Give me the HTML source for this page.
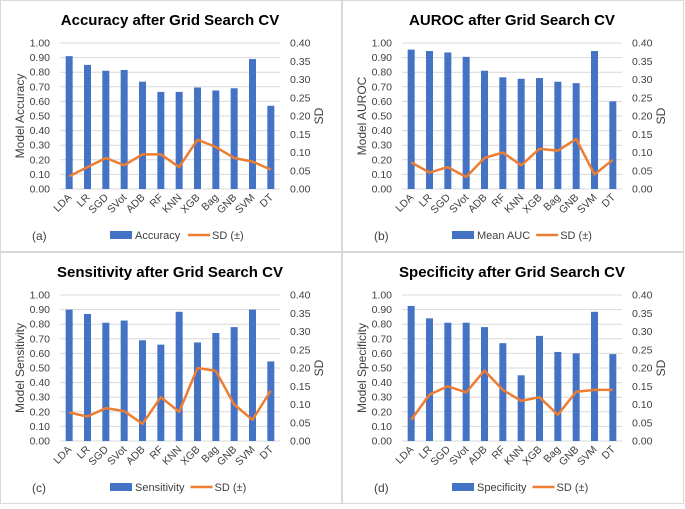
<!DOCTYPE html>
<html><head><meta charset="utf-8"><style>
body{margin:0;background:#fff;font-family:"Liberation Sans",sans-serif}
svg text{font-family:"Liberation Sans",sans-serif;fill:#404040}
</style></head><body>
<svg id="s" width="685" height="504" xmlns="http://www.w3.org/2000/svg"></svg>
<script>
const categories=["LDA","LR","SGD","SVot","ADB","RF","KNN","XGB","Bag","GNB","SVM","DT"];
const accValues=[0.91,0.85,0.81,0.815,0.735,0.665,0.665,0.695,0.675,0.69,0.89,0.57];
const accSD=[0.035,0.06,0.085,0.065,0.095,0.095,0.06,0.135,0.115,0.085,0.075,0.053];
const aucValues=[0.955,0.945,0.935,0.905,0.81,0.765,0.755,0.76,0.735,0.725,0.945,0.60];
const aucSD=[0.073,0.045,0.06,0.033,0.085,0.10,0.065,0.11,0.105,0.137,0.04,0.08];
const sensValues=[0.90,0.87,0.81,0.825,0.69,0.66,0.885,0.675,0.74,0.78,0.90,0.545];
const sensSD=[0.078,0.067,0.09,0.082,0.047,0.12,0.08,0.20,0.192,0.10,0.058,0.138];
const specValues=[0.925,0.84,0.81,0.81,0.78,0.67,0.45,0.72,0.61,0.60,0.885,0.595];
const specSD=[0.058,0.127,0.15,0.133,0.193,0.14,0.11,0.12,0.072,0.135,0.14,0.14];
const leftTicks=["0.00","0.10","0.20","0.30","0.40","0.50","0.60","0.70","0.80","0.90","1.00"];
const rightTicks=["0.00","0.05","0.10","0.15","0.20","0.25","0.30","0.35","0.40"];
const NS="http://www.w3.org/2000/svg";
const svg=document.getElementById('s');
function el(tag,attrs,parent,text){const e=document.createElementNS(NS,tag);for(const k in attrs)e.setAttribute(k,attrs[k]);if(text!==undefined)e.textContent=text;(parent||svg).appendChild(e);return e;}
const panels=[
 {ox:0,oy:0,title:"Accuracy after Grid Search CV",yt:"Model Accuracy",leg:"Accuracy",tag:"(a)",v:accValues,sd:accSD,id:"accuracy"},
 {ox:342,oy:0,title:"AUROC after Grid Search CV",yt:"Model AUROC",leg:"Mean AUC",tag:"(b)",v:aucValues,sd:aucSD,id:"auroc"},
 {ox:0,oy:252,title:"Sensitivity after Grid Search CV",yt:"Model Sensitivity",leg:"Sensitivity",tag:"(c)",v:sensValues,sd:sensSD,id:"sensitivity"},
 {ox:342,oy:252,title:"Specificity after Grid Search CV",yt:"Model Specificity",leg:"Specificity",tag:"(d)",v:specValues,sd:specSD,id:"specificity"}];
panels.forEach(p=>{
 const g=el('g',{transform:`translate(${p.ox},${p.oy})`});
 
 
 el('rect',{x:0.5,y:0.5,width:341,height:251,fill:'#fff',stroke:'#d9d9d9'},g);
 const L=60,R=280,T=43,B=189;
 const y=v=>B-(B-T)*v/1.0, y2=v=>B-(B-T)*v/0.4;
 const band=(R-L)/categories.length, xc=i=>L+band*(i+0.5);
 const t=el('text',{x:170,y:25,'text-anchor':'middle','font-size':15,'font-weight':'bold',style:'fill:#000'},g,p.title);
 
 
 leftTicks.forEach((s,i)=>{const v=i/10;
  el('line',{x1:L,x2:R,y1:y(v),y2:y(v),stroke:'#d9d9d9','stroke-width':1},g);
  el('text',{x:50,y:y(v)+3.5,'text-anchor':'end','font-size':10.5},g,s);});
 rightTicks.forEach((s,i)=>{el('text',{x:290,y:y2(i*0.05)+3.5,'font-size':10.5},g,s);});
 el('text',{transform:`translate(24,${(T+B)/2}) rotate(-90)`,'text-anchor':'middle','font-size':12},g,p.yt);
 el('text',{transform:`translate(323,${(T+B)/2}) rotate(-90)`,'text-anchor':'middle','font-size':12},g,"SD");
 p.v.forEach((v,i)=>{
  const b=el('rect',{x:xc(i)-3.5,y:y(v),width:7,height:B-y(v),fill:'#4472c4'},g);
  
  
  el('text',{transform:`translate(${xc(i)+3},${B+9}) rotate(-45)`,'text-anchor':'end','font-size':10.5},g,categories[i]);
 });
 const pl=el('polyline',{points:p.sd.map((s,i)=>xc(i)+','+y2(s)).join(' '),fill:'none',stroke:'#ed7d31','stroke-width':2.5,'stroke-linejoin':'round'},g);
 
 
 el('text',{x:32,y:240,'font-size':12},g,p.tag);
 const lg=el('g',{},g);
 
 
 el('rect',{x:110,y:231,width:22,height:8,fill:'#4472c4'},lg);
 const lt=el('text',{x:135,y:239,'font-size':11},lg,p.leg);
 const w=lt.getComputedTextLength();
 const lx=Math.max(188,135+w+6);
 el('line',{x1:lx,x2:lx+22,y1:235,y2:235,stroke:'#ed7d31','stroke-width':2.5},lg);
 el('text',{x:lx+24,y:239,'font-size':11},lg,"SD (±)");
});
</script>
</body></html>
